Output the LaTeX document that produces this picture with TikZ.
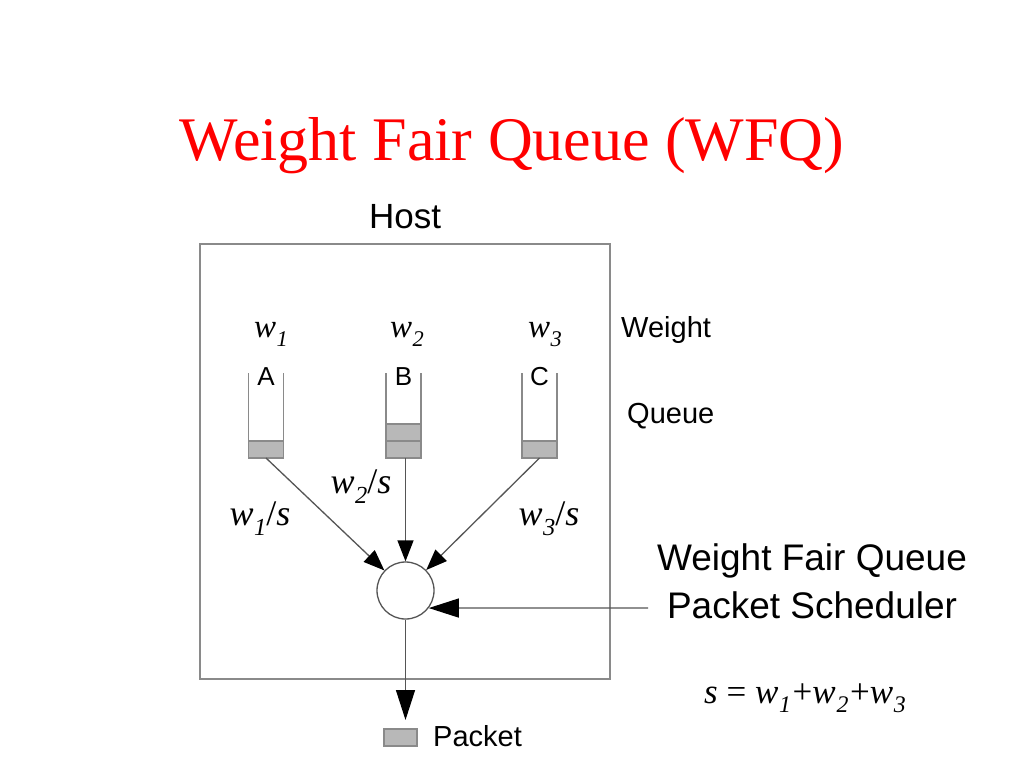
\documentclass[tikz,border=0pt]{standalone}
\usepackage{fontspec}
\usepackage{graphicx}
\setmainfont{Liberation Serif}
\setsansfont{Liberation Sans}
\usetikzlibrary{arrows.meta}
\newcommand\wsub[1]{\textit{w}\kern0.02em\raisebox{-0.28em}{\scalebox{0.68}{\textit{#1}}}}
\definecolor{boxgray}{HTML}{8A8A8A}
\definecolor{pktgray}{HTML}{B8B8B8}
\definecolor{linegray}{HTML}{555555}
\tikzset{
  sans/.style={font=\sffamily\fontsize{#1}{#1}\selectfont, inner sep=0pt},
  serif/.style={font=\fontsize{#1}{#1}\selectfont, inner sep=0pt},
  pkt/.style={draw=boxgray, fill=pktgray, line width=1.2pt, minimum width=35pt, minimum height=17pt, inner sep=0pt, outer sep=0pt},
  wall/.style={draw=boxgray, line width=1.5pt},
  inarrow/.style={draw=linegray, line width=1.3pt, -{Triangle[length=21pt,width=16pt,color=black]}},
  bigarrow/.style={draw=linegray, line width=1.3pt, -{Triangle[length=30pt,width=19pt,color=black]}}
}
\begin{document}
\begin{tikzpicture}[x=1pt,y=-1pt]
\useasboundingbox[fill=white] (0,0) rectangle (1024,768);
% title
\node[serif=62, text=red, anchor=base] (title) at (512,160) {Weight Fair Queue (WFQ)};
% host box
\node[sans=35, anchor=base] (host) at (405,228) {Host};
\draw[draw=boxgray, line width=1.5pt] (200,244) rectangle (610,679);
% weights
\node[serif=33, anchor=base] (w1) at (271,337) {\wsub{1}};
\node[serif=33, anchor=base] (w2) at (407,337) {\wsub{2}};
\node[serif=33, anchor=base] (w3) at (545,337) {\wsub{3}};
\node[sans=29, anchor=base west] (weight) at (621,337) {Weight};
% queues
\node[pkt] (qa) at (266,449.5) {};
\node[pkt] (qb) at (403.5,449.5) {};
\node[pkt] (qb2) at (403.5,432.5) {};
\node[pkt] (qc) at (539.5,449.5) {};
\foreach \q in {qa,qb,qc}{
  \draw[wall] (\q.south west) -- ++(0,-85);
  \draw[wall] (\q.south east) -- ++(0,-85);
}
\node[sans=26, anchor=base] (la) at (266,385) {A};
\node[sans=26, anchor=base] (lb) at (403.5,385) {B};
\node[sans=26, anchor=base] (lc) at (539.5,385) {C};
\node[sans=29, anchor=base west] (queue) at (627,423) {Queue};
% scheduler
\node[draw=linegray, line width=1.3pt, circle, minimum size=57pt, inner sep=0pt, fill=white] (sched) at (405.5,590.5) {};
\draw[inarrow] (qa.south) -- (sched);
\draw[inarrow] (qb.south -| sched) -- (sched);
\draw[inarrow] (qc.south) -- (sched);
\node[serif=36, anchor=base] (r1) at (260,525) {\wsub{1}/\textit{s}};
\node[serif=36, anchor=base] (r2) at (361,493) {\wsub{2}/\textit{s}};
\node[serif=36, anchor=base] (r3) at (549,525) {\wsub{3}/\textit{s}};
% scheduler label
\node[sans=37, anchor=base] (wfq1) at (812,570) {Weight Fair Queue};
\node[sans=37, anchor=base] (wfq2) at (812,618) {Packet Scheduler};
\coordinate (schin) at (648,608);
\draw[bigarrow] (schin) -- (sched.-37);
% output
\node[pkt, minimum width=33pt, minimum height=17pt] (outpkt) at (400.5,737.5) {};
\node[sans=29, anchor=base west] (packet) at (433,746) {Packet};
\draw[bigarrow] (sched.south) -- (sched.south |- 0,720);
% formula
\node[serif=35, anchor=base] (formula) at (805,703) {\textit{s} = \wsub{1}\kern0.05em+\wsub{2}\kern0.05em+\wsub{3}};
\end{tikzpicture}
\end{document}
